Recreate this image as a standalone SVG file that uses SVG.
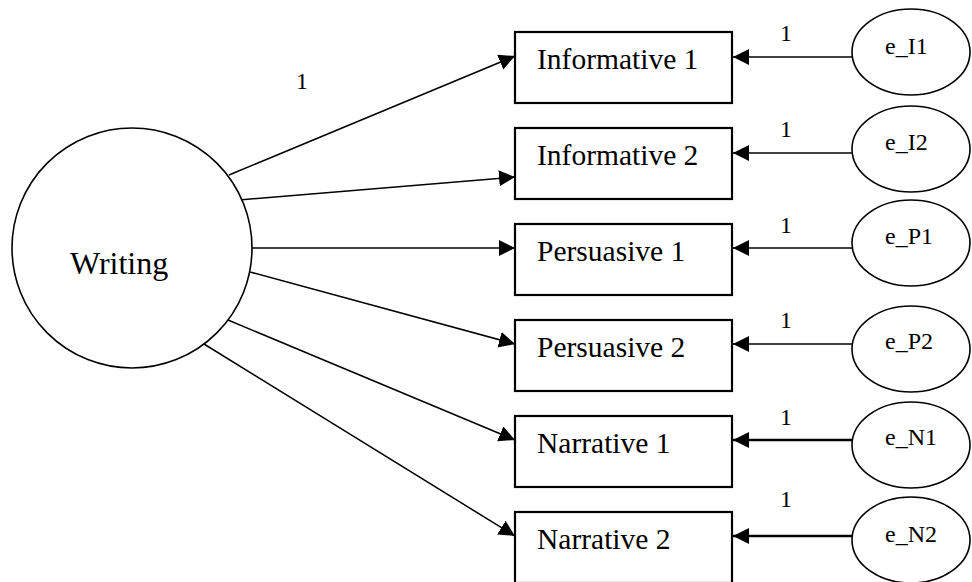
<svg xmlns="http://www.w3.org/2000/svg" width="972" height="582" viewBox="0 0 972 582">
  <style>
    .shape { fill: #fff; stroke: #000; stroke-width: 1.6; }
    .box { fill: #fff; stroke: #000; stroke-width: 2.2; }
    .edge { fill: none; stroke: #000; stroke-width: 1.5; marker-end: url(#arrow); }
    .err { fill: none; stroke: #000; stroke-width: 1.4; marker-end: url(#arrow); }
    .err-thick { stroke-width: 2.4; }
    text { font-family: "Liberation Serif", "Times New Roman", serif; fill: #000; }
    .big { font-size: 29.5px; }
    .latent { font-size: 32px; }
    .small { font-size: 24px; }
  </style>
  <defs>
    <marker id="arrow" markerUnits="userSpaceOnUse" markerWidth="17" markerHeight="17" refX="16" refY="8" orient="auto">
      <path d="M0,0 L16,8 L0,16 Z" fill="#000"/>
    </marker>
  </defs>

  <!-- loadings and error paths -->
  <g id="connectors">
    <line class="edge" x1="229" y1="175" x2="515" y2="56"/>
    <line class="edge" x1="239" y1="200" x2="515" y2="177"/>
    <line class="edge" x1="252" y1="248" x2="515" y2="248"/>
    <line class="edge" x1="250" y1="272" x2="515" y2="344"/>
    <line class="edge" x1="228" y1="320" x2="515" y2="440"/>
    <line class="edge" x1="204" y1="344" x2="515" y2="536"/>

    <line class="err" x1="852" y1="57" x2="733" y2="57"/>
    <line class="err" x1="852" y1="153" x2="733" y2="153"/>
    <line class="err" x1="852" y1="248" x2="733" y2="248"/>
    <line class="err" x1="852" y1="344" x2="733" y2="344"/>
    <line class="err err-thick" x1="852" y1="440" x2="733" y2="440"/>
    <line class="err err-thick" x1="852" y1="536" x2="733" y2="536"/>

    <text class="small" x="296" y="89">1</text>
    <text class="small" x="780" y="41">1</text>
    <text class="small" x="780" y="137">1</text>
    <text class="small" x="780" y="233">1</text>
    <text class="small" x="780" y="328">1</text>
    <text class="small" x="780" y="425">1</text>
    <text class="small" x="780" y="507">1</text>
  </g>

  <!-- latent factor -->
  <g id="writing">
    <circle class="shape" cx="132" cy="248" r="120"/>
    <text class="latent" x="70" y="274">Writing</text>
  </g>

  <!-- observed indicators -->
  <g id="informative1">
    <rect class="box" x="515" y="32" width="217" height="71"/>
    <text class="big" x="537" y="69">Informative 1</text>
  </g>
  <g id="informative2">
    <rect class="box" x="515" y="128" width="217" height="71"/>
    <text class="big" x="537" y="165">Informative 2</text>
  </g>
  <g id="persuasive1">
    <rect class="box" x="515" y="224" width="217" height="71"/>
    <text class="big" x="537" y="261">Persuasive 1</text>
  </g>
  <g id="persuasive2">
    <rect class="box" x="515" y="320" width="217" height="71"/>
    <text class="big" x="537" y="357">Persuasive 2</text>
  </g>
  <g id="narrative1">
    <rect class="box" x="515" y="416" width="217" height="71"/>
    <text class="big" x="537" y="453">Narrative 1</text>
  </g>
  <g id="narrative2">
    <rect class="box" x="515" y="512" width="217" height="71"/>
    <text class="big" x="537" y="549">Narrative 2</text>
  </g>

  <!-- error terms -->
  <g id="e_I1">
    <ellipse class="shape" cx="911" cy="52" rx="59" ry="43"/>
    <text class="small" x="885" y="54">e_I1</text>
  </g>
  <g id="e_I2">
    <ellipse class="shape" cx="911" cy="149" rx="59" ry="43"/>
    <text class="small" x="885" y="150">e_I2</text>
  </g>
  <g id="e_P1">
    <ellipse class="shape" cx="911" cy="243" rx="59" ry="43"/>
    <text class="small" x="885" y="244">e_P1</text>
  </g>
  <g id="e_P2">
    <ellipse class="shape" cx="911" cy="349" rx="59" ry="43"/>
    <text class="small" x="885" y="349">e_P2</text>
  </g>
  <g id="e_N1">
    <ellipse class="shape" cx="911" cy="445" rx="59" ry="43"/>
    <text class="small" x="885" y="445">e_N1</text>
  </g>
  <g id="e_N2">
    <ellipse class="shape" cx="911" cy="540" rx="59" ry="43"/>
    <text class="small" x="885" y="542">e_N2</text>
  </g>
</svg>
